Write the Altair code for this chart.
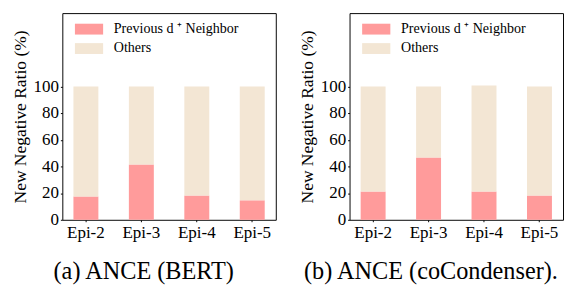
import altair as alt
import pandas as pd

epochs = ["Epi-2", "Epi-3", "Epi-4", "Epi-5"]
series_names = ["Previous d \u207a Neighbor", "Others"]
bert_prev = [17.5, 41.5, 18.2, 14.6]
bert_others = [82.5, 58.5, 81.8, 85.4]
cocond_prev = [21.2, 46.7, 21.2, 18.2]
cocond_others = [78.8, 53.3, 79.5, 81.8]
y_ticks = [0, 20, 40, 60, 80, 100]
subtitles = ["(a) ANCE (BERT)", "(b) ANCE (coCondenser)."]
colors = ["#FF9B9B", "#F3E6D4"]

FONT = "Liberation Serif"


def make_df(prev, others):
    rows = []
    for e, p, o in zip(epochs, prev, others):
        rows.append({"epoch": e, "series": series_names[0], "value": p, "ord": 0})
        rows.append({"epoch": e, "series": series_names[1], "value": o, "ord": 1})
    return pd.DataFrame(rows)


def panel(df, subtitle):
    return alt.Chart(
        df,
        title=alt.TitleParams(
            subtitle, orient="bottom", anchor="middle", frame="bounds", offset=19,
        ),
    ).mark_bar().encode(
        x=alt.X(
            "epoch:N", sort=epochs,
            scale=alt.Scale(paddingInner=0.55, paddingOuter=0.2),
            axis=alt.Axis(title=None, labelAngle=0),
        ),
        y=alt.Y(
            "value:Q", stack="zero",
            scale=alt.Scale(domain=[0, 155], nice=False),
            axis=alt.Axis(title="New Negative Ratio (%)", values=y_ticks, titlePadding=4),
        ),
        color=alt.Color(
            "series:N",
            scale=alt.Scale(domain=series_names, range=colors),
            legend=alt.Legend(
                title=None, orient="none", legendX=16, legendY=5,
                symbolType="M-1.3,-0.5H1.3V0.5H-1.3Z", symbolSize=500,
                symbolStrokeWidth=0, labelOffset=14, rowPadding=2, padding=0,
            ),
        ),
        order=alt.Order("ord:Q"),
    ).properties(width=220, height=213)


left = panel(make_df(bert_prev, bert_others), subtitles[0])
right = panel(make_df(cocond_prev, cocond_others), subtitles[1])

chart = (
    alt.hconcat(left, right, spacing=22)
    .resolve_legend(color="independent")
    .properties(padding={"left": 3, "top": 0, "right": 0, "bottom": 0})
    .configure(font=FONT)
    .configure_view(stroke="black", strokeWidth=1)
    .configure_axis(
        labelFont=FONT, labelFontSize=17.5, labelColor="black",
        titleFont=FONT, titleFontSize=18, titleFontWeight="normal", titleColor="black",
        tickSize=2, tickColor="black", labelPadding=2, domain=False, grid=False,
    )
    .configure_legend(labelFont=FONT, labelFontSize=14.5, labelColor="black")
    .configure_title(font=FONT, fontSize=25, fontWeight="normal", color="black")
)

chart.save("out.html", embed_options={"renderer": "svg", "actions": False})
